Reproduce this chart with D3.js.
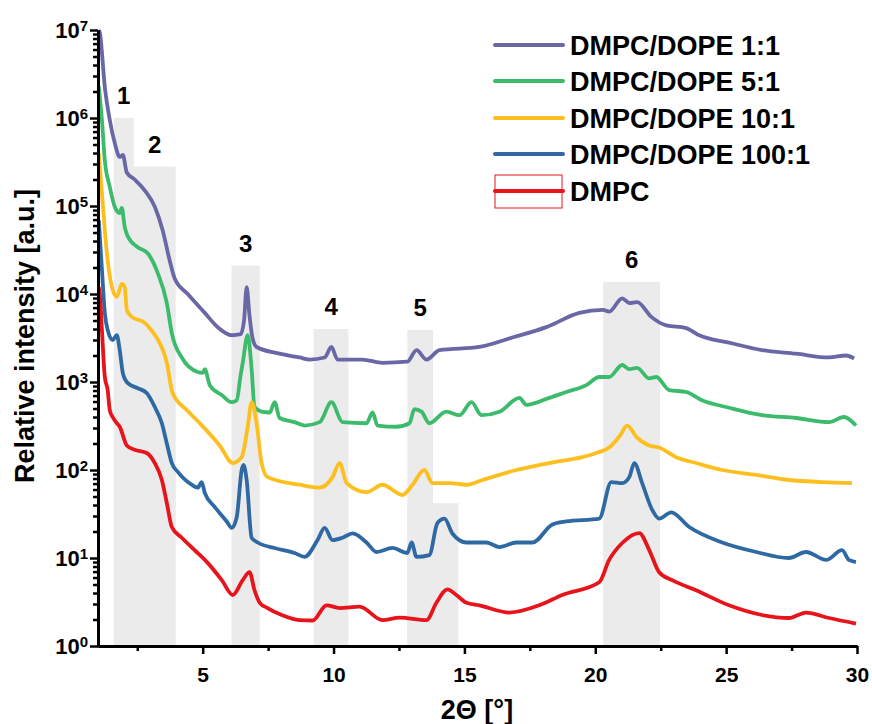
<!DOCTYPE html>
<html>
<head>
<meta charset="utf-8">
<script src="https://cdn.jsdelivr.net/npm/d3@7"></script>
<style>
  body { margin: 0; background: #fff; }
  text { font-family: Arial, "Liberation Sans", sans-serif; font-weight: bold; }
</style>
</head>
<body>
<svg id="xrd"></svg>
<script>
// series: [2theta, intensity]
var dope1 = [[1.03,1e7],[1.07,9.3e6],[1.26,2.25e6],[1.45,9.5e5],[1.64,5.2e5],[1.83,3.6e5],[1.95,3.8e5],[2.10,2.4e5],[2.40,2.0e5],[2.79,1.5e5],[3.17,9.8e4],[3.47,5.3e4],[3.74,2.4e4],[3.93,1.5e4],[4.43,1.0e4],[5.08,6.1e3],[5.57,4.2e3],[6.11,3.4e3],[6.45,3.5e3],[6.58,5.0e3],[6.68,1.2e4],[6.78,6.0e3],[6.9,3.2e3],[7.06,2.5e3],[7.94,2.1e3],[8.70,1.9e3],[9.08,1.8e3],[9.66,1.9e3],[9.92,2.5e3],[10.15,1.8e3],[11.1,1.8e3],[11.87,1.65e3],[12.82,1.7e3],[13.17,2.3e3],[13.55,1.8e3],[14.05,2.3e3],[15.57,2.5e3],[16.83,3.2e3],[18.13,4.2e3],[19.39,6.1e3],[20.3,6.6e3],[20.53,6.3e3],[21.03,8.9e3],[21.3,7.9e3],[21.6,8.1e3],[22.14,5.5e3],[22.71,4.4e3],[23.47,4.1e3],[23.97,3.4e3],[25.11,2.8e3],[26.37,2.3e3],[27.67,2.1e3],[28.93,1.9e3],[29.58,2.0e3],[29.89,1.85e3]];
var dope5 = [[1.03,2.3e6],[1.15,9.5e5],[1.26,3.3e5],[1.45,1.65e5],[1.64,9.8e4],[1.83,8.3e4],[1.91,9.5e4],[2.02,5.8e4],[2.14,4.5e4],[2.52,3.4e4],[2.90,2.9e4],[3.28,1.74e4],[3.63,7.9e3],[3.82,3.6e3],[4.20,1.9e3],[4.81,1.3e3],[5.0,1.27e3],[5.08,1.4e3],[5.27,9.2e2],[5.73,7.1e2],[6.11,5.9e2],[6.30,6.2e2],[6.45,1.2e3],[6.53,1.65e3],[6.72,3.4e3],[6.87,1.4e3],[6.98,5.2e2],[7.25,4.6e2],[7.56,4.5e2],[7.75,5.9e2],[7.94,3.9e2],[8.51,3.5e2],[8.89,3.2e2],[9.47,3.5e2],[9.92,5.9e2],[10.34,3.5e2],[11.26,3.4e2],[11.49,4.5e2],[11.68,3.2e2],[12.40,3.1e2],[12.90,3.4e2],[13.09,4.9e2],[13.36,4.6e2],[13.66,3.4e2],[14.31,4.6e2],[14.81,4.2e2],[15.27,5.9e2],[15.65,4.2e2],[16.34,4.6e2],[17.10,6.6e2],[17.37,5.5e2],[18.24,6.6e2],[18.89,7.7e2],[19.66,9.2e2],[20.15,1.14e3],[20.53,1.14e3],[21.03,1.56e3],[21.3,1.4e3],[21.6,1.45e3],[22.06,1.1e3],[22.33,1.14e3],[22.82,8.1e2],[23.47,7.7e2],[24.08,6.2e2],[25.11,5.1e2],[26.37,4.2e2],[27.67,3.9e2],[28.93,3.5e2],[29.5,4.0e2],[29.96,3.2e2]];
var dope10 = [[1.03,4.0e5],[1.18,1.08e5],[1.34,2.9e4],[1.53,1.2e4],[1.72,9.3e3],[1.91,1.3e4],[2.02,1.2e4],[2.10,6.6e3],[2.29,5.5e3],[2.79,4.7e3],[3.09,3.7e3],[3.24,3.2e3],[3.63,1.65e3],[3.85,7.5e2],[4.39,4.8e2],[4.89,3.4e2],[5.65,1.9e2],[6.15,1.2e2],[6.49,1.4e2],[6.72,3.1e2],[6.87,5.9e2],[7.06,3.4e2],[7.25,1.2e2],[7.48,83],[8.70,68],[9.47,63],[9.96,83],[10.23,120],[10.50,71],[11.26,56],[11.87,68],[12.63,52],[13.02,68],[13.47,100],[13.78,71],[14.43,71],[15.08,68],[15.69,77],[16.98,100],[18.24,120],[19.5,140],[20.15,160],[20.53,180],[20.92,240],[21.22,320],[21.56,240],[22.06,190],[22.44,180],[23.09,140],[23.85,120],[24.85,100],[26.15,88],[27.40,77],[28.66,73],[29.81,71]];
var dope100 = [[1.03,6.9e4],[1.15,1.9e4],[1.26,6.1e3],[1.37,3.9e3],[1.56,3.0e3],[1.72,3.4e3],[1.83,2.3e3],[1.95,1.26e3],[2.14,9.7e2],[2.52,8.5e2],[2.86,7.5e2],[3.17,5.2e2],[3.44,3.4e2],[3.63,2.0e2],[3.82,1.2e2],[4.05,95],[4.58,68],[4.81,63],[4.96,73],[5.08,55],[5.46,38],[5.92,26],[6.11,22],[6.30,29],[6.49,100],[6.56,114],[6.68,77],[6.87,17],[7.10,15],[7.75,13],[8.51,11.4],[8.89,10.3],[9.39,16],[9.66,22],[9.96,16],[10.34,17],[10.73,19],[11.26,15],[11.64,11.7],[12.25,13],[12.82,11.4],[12.98,15],[13.17,10.3],[13.66,10.8],[13.97,25],[14.24,28],[14.54,19],[15.08,15],[15.84,15],[16.34,13.3],[16.98,15],[17.6,15],[18.36,24],[18.89,26],[20.15,28],[20.61,73],[21.03,71],[21.3,83],[21.49,120],[21.79,71],[22.18,35],[22.44,28],[22.9,33],[23.59,22.5],[24.85,15],[26.15,11.7],[27.40,10],[28.05,11.7],[28.82,9.5],[29.43,12.3],[29.69,9.5],[29.96,9.0]];
var dmpc = [[1.03,1.2e4],[1.07,1.0e4],[1.15,3.9e3],[1.26,1.14e3],[1.37,8.1e2],[1.45,4.8e2],[1.56,4.0e2],[1.72,3.4e2],[1.83,3.1e2],[2.10,1.9e2],[2.40,1.7e2],[2.86,1.56e2],[3.17,1.2e2],[3.44,77],[3.63,42],[3.82,22.5],[4.20,17],[4.69,12.3],[5.19,8.8],[5.73,5.6],[6.15,3.8],[6.53,5.6],[6.79,6.9],[6.98,4.3],[7.18,3.1],[7.48,2.7],[8.02,2.25],[8.70,1.97],[9.2,1.95],[9.73,2.9],[10.23,2.7],[10.99,2.8],[11.87,1.97],[12.52,2.1],[13.55,1.97],[13.93,3.1],[14.35,4.4],[14.69,3.8],[15.08,3.1],[15.57,2.9],[16.72,2.4],[17.86,2.9],[18.74,3.8],[20.15,5.3],[20.53,9.5],[21.03,14.8],[21.68,19.2],[22.06,12.3],[22.44,6.9],[22.94,5.6],[23.85,4.3],[25.11,2.9],[26.37,2.25],[27.40,2.08],[28.05,2.4],[28.93,2.08],[29.96,1.8]];

var seriesNames = ["DMPC/DOPE 1:1", "DMPC/DOPE 5:1", "DMPC/DOPE 10:1", "DMPC/DOPE 100:1", "DMPC"];
var seriesData = [dope1, dope5, dope10, dope100, dmpc];
var seriesColors = ["#6967a6", "#3dbb6c", "#fdbf1f", "#2f69a3", "#e8141c"];

// shaded regions
var regionStart = [1.6, 2.37, 6.1, 9.24, 12.82, 12.82, 20.3];
var regionEnd   = [2.37, 3.97, 7.18, 10.57, 13.8, 14.77, 22.48];
var regionTop   = [1e6, 2.8e5, 2.1e4, 4.0e3, 3.9e3, 42, 1.37e4];
var regionLabel = ["1", "2", "3", "4", "5", "", "6"];

var xMajor = [5, 10, 15, 20, 25, 30];
var xMinor = [2.5, 7.5, 12.5, 17.5, 22.5, 27.5];
var yMajor = [1, 1e1, 1e2, 1e3, 1e4, 1e5, 1e6, 1e7];

var W = 872, H = 724;
var margin = { top: 30, right: 15, bottom: 78, left: 98 };
var width = W - margin.left - margin.right,
    height = H - margin.top - margin.bottom;

var svg = d3.select("#xrd").attr("width", W).attr("height", H);
var g = svg.append("g").attr("transform", "translate(" + margin.left + "," + margin.top + ")");

var x = d3.scaleLinear().domain([1, 30]).range([0, width]);
var y = d3.scaleLog().domain([1, 1e7]).range([height, 0]);

// regions
regionStart.forEach(function (s, i) {
  g.append("rect")
    .attr("x", x(s))
    .attr("y", y(regionTop[i]))
    .attr("width", x(regionEnd[i]) - x(s))
    .attr("height", height - y(regionTop[i]))
    .attr("fill", "#ebebeb");
  if (regionLabel[i]) {
    g.append("text")
      .attr("x", (x(s) + x(regionEnd[i])) / 2)
      .attr("y", y(regionTop[i]) - 14)
      .attr("text-anchor", "middle")
      .attr("font-size", "24px")
      .text(regionLabel[i]);
  }
});

// lines
var line = d3.line().x(d => x(d[0])).y(d => y(d[1])).curve(d3.curveMonotoneX);
seriesData.forEach(function (s, i) {
  g.append("path")
    .datum(s)
    .attr("d", line)
    .attr("fill", "none")
    .attr("stroke", seriesColors[i])
    .attr("stroke-width", 3.8)
    .attr("stroke-linejoin", "round");
});

// axes
var yMinor = [];
for (var k = 0; k < 7; k++) for (var m = 2; m < 10; m++) yMinor.push(m * Math.pow(10, k));

g.append("g").attr("transform", "translate(0," + height + ")")
  .call(d3.axisBottom(x).tickValues(xMinor).tickSize(5).tickSizeOuter(0).tickFormat(""));
g.append("g").call(d3.axisLeft(y).tickValues(yMinor).tickSize(5).tickSizeOuter(0).tickFormat(""));

var xAx = g.append("g").attr("transform", "translate(0," + height + ")")
  .call(d3.axisBottom(x).tickValues(xMajor).tickSize(8).tickPadding(13).tickSizeOuter(0));
xAx.selectAll("text").attr("font-size", "21px").attr("fill", "#000");

var yAx = g.append("g")
  .call(d3.axisLeft(y).tickValues(yMajor).tickSize(8).tickPadding(2).tickSizeOuter(0));
yAx.selectAll("text").attr("font-size", "22px").attr("fill", "#000")
  .each(function (d) {
    var t = d3.select(this).text(null);
    t.append("tspan").text("10");
    t.append("tspan").attr("dy", "-0.45em").attr("font-size", "15px").text(Math.round(Math.log10(d)));
  });

g.selectAll(".domain").attr("stroke", "#000").attr("stroke-width", 3);
g.selectAll(".tick line").attr("stroke", "#000").attr("stroke-width", 2.5);

// axis titles
svg.append("text")
  .attr("transform", "translate(34,336) rotate(-90)")
  .attr("text-anchor", "middle")
  .attr("font-size", "27px")
  .text("Relative intensity [a.u.]");

svg.append("text")
  .attr("x", 477)
  .attr("y", 719)
  .attr("text-anchor", "middle")
  .attr("font-size", "27px")
  .text("2\u0398 [\u00b0]");

// legend
var legY = [45, 81, 118, 154, 191];
seriesNames.forEach(function (n, i) {
  var lg = svg.append("g").attr("transform", "translate(495," + legY[i] + ")");
  if (i === 4) {
    lg.append("rect").attr("x", 0).attr("y", -16).attr("width", 67).attr("height", 33)
      .attr("fill", "none").attr("stroke", seriesColors[i]).attr("stroke-width", 1);
  }
  lg.append("line").attr("x1", 0).attr("x2", 68).attr("y1", 0).attr("y2", 0)
    .attr("stroke", seriesColors[i]).attr("stroke-width", 4).attr("stroke-linecap", "round");
  lg.append("text").attr("x", 75).attr("y", 10).attr("font-size", "27px").text(n);
});
</script>
</body>
</html>
